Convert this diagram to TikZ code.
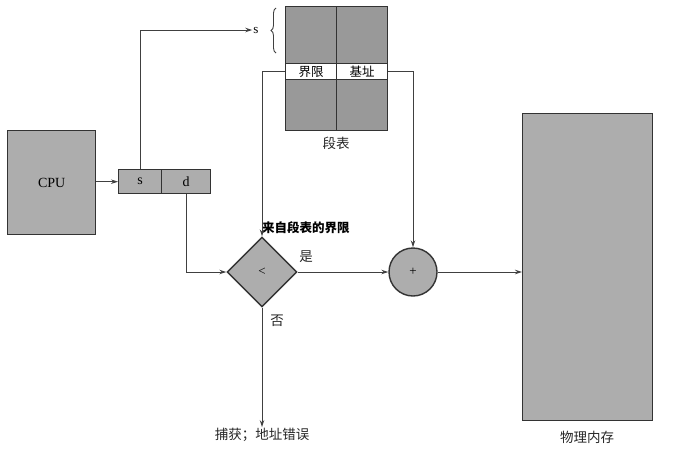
\documentclass[tikz,border=0pt]{standalone}
\usepackage{fontspec}
\setmainfont{Liberation Serif}
\newfontfamily\cjk{Noto Sans CJK SC}
\usetikzlibrary{shapes.geometric,decorations.pathreplacing,arrows.meta}

\tikzset{
  unit/.style = {draw=black!80, line width=1.4pt, fill=black!32, inner sep=0pt, anchor=north west},
  cell/.style = {draw=black!80, line width=1.4pt, fill=black!40, inner sep=0pt, anchor=north west,
                 minimum width=51, minimum height=57},
  entry/.style = {draw=black!80, line width=1.4pt, fill=white, inner sep=0pt, anchor=north west,
                  minimum width=51, minimum height=16, font=\cjk\fontsize{12.5}{14}\selectfont},
  wire/.style = {draw=black!75, line width=0.9pt},
  arr/.style = {wire, -{Stealth[length=7pt,width=4.5pt]}},
  note/.style = {font=\cjk\fontsize{13.5}{15}\selectfont, text=black!85, inner sep=1pt}
}

\begin{document}
\begin{tikzpicture}[x=1pt,y=-1pt]
  \useasboundingbox (0,0) rectangle (680,453);

  % CPU and logical address
  \node[unit, minimum width=88, minimum height=104, font=\fontsize{14}{16}\selectfont] (cpu) at (7,130) {CPU};
  \node[unit, minimum width=43, minimum height=24, font=\fontsize{14}{16}\selectfont] (s) at (118,169) {s};
  \node[unit, minimum width=49, minimum height=24, font=\fontsize{14}{16}\selectfont] (d) at (161,169) {d};

  % segment table
  \node[cell] (topL) at (285,6) {};
  \node[cell] (topR) at (336,6) {};
  \node[entry] (lim) at (285,63) {界限};
  \node[entry] (base) at (336,63) {基址};
  \node[cell, minimum height=51] (botL) at (285,79) {};
  \node[cell, minimum height=51] (botR) at (336,79) {};
  \node[note] (tab) at (336,143) {段表};

  \node[font=\fontsize{13}{15}\selectfont, inner sep=1pt] (sl) at (256,30) {s};
  \coordinate (b1) at (276,53);
  \coordinate (b2) at (276,8);
  \draw[wire, decorate, decoration={brace, amplitude=5pt}] (b1) -- (b2);

  % check and add
  \node[diamond, draw=black!80, line width=1.4pt, fill=black!32, minimum width=70, minimum height=70,
        inner sep=0pt, font=\fontsize{13}{15}\selectfont] (cmp) at (262,272) {<};
  \node[circle, draw=black!80, line width=1.4pt, fill=black!32, minimum size=48,
        inner sep=0pt, font=\fontsize{13}{15}\selectfont] (add) at (413,272) {+};

  % physical memory
  \node[unit, minimum width=130, minimum height=307] (mem) at (522,113) {};
  \node[note] (meml) at (587,437) {物理内存};
  \node[note] (trap) at (262,435) {捕获；地址错误};

  % labels
  \node[font=\cjk\bfseries\fontsize{12.5}{14}\selectfont, text=black, inner sep=0pt, anchor=west] (from) at (262,228) {来自段表的界限};
  \node[note] (yes) at (306,257) {是};
  \node[note] (no) at (277,321) {否};

  % connectors
  \draw[arr] (cpu.east |- s) -- (s.west);
  \draw[arr] (s.north) |- (sl.west);
  \draw[arr] (lim.west) -| (cmp.north);
  \draw[arr] (base.east) -| (add.north);
  \draw[arr] (d.south) |- (cmp.west);
  \draw[arr] (cmp.east) -- (add.west);
  \draw[arr] (add.east) -- (mem.west |- add);
  \draw[arr] (cmp.south) -- (trap.north);
\end{tikzpicture}
\end{document}
